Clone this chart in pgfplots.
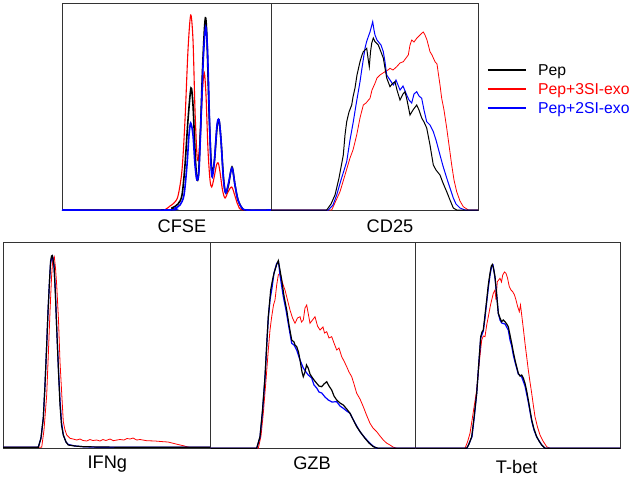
\documentclass[border=0pt]{standalone}
\usepackage{pgfplots}
\pgfplotsset{compat=1.18}
\usepackage{fontspec}
\setmainfont{Liberation Sans}

% every panel uses image pixels as data units
\pgfplotsset{
  panel/.style={
    x=1bp, y=1bp, y dir=reverse,
    anchor=north west,
    xtick=\empty, ytick=\empty,
    axis line style={black!80, line width=0.8bp},
    clip=false,
  },
  pk/.style={black, line width=1.2bp},
  pr/.style={red, line width=0.8bp},
  pb/.style={blue, line width=1.2bp},
}
\tikzset{lab/.style={anchor=base, font=\fontsize{18.3}{22}\selectfont}}

\begin{document}
\begin{tikzpicture}
\path[use as bounding box] (0,0) rectangle (630bp,-478bp);

% CFSE
\begin{axis}[panel, at={(62bp,-3bp)}, xmin=62, xmax=271, ymin=3, ymax=210]
\addplot[pr, line width=1.1bp, smooth] coordinates {(62,210)(160,210)(166,209)(170,206)(174,203)(178,196)(182,170)(185,120)(188,50)(190.7,15)(193,40)(195,110)(197,155)(198.5,158)(200.5,130)(202.5,90)(204.3,73)(206,95)(208,150)(210,180)(211.7,187)(214,178)(216.5,165)(218.3,163)(220,172)(222.5,190)(225,198)(228,192)(231.7,187)(235,196)(238,205)(243,210)(271,210)};
\addplot[pk, line width=1.6bp, smooth] coordinates {(62,210)(165,210)(172,208)(178,204)(182,195)(185,165)(188,120)(191,88)(193,105)(195,150)(196.7,178)(198.5,175)(200.5,130)(202.5,70)(204.5,28)(205.7,18)(207,40)(209,110)(211,160)(212.3,173)(214.5,160)(217,128)(219,120)(221,140)(223.5,178)(225.7,193)(228.5,185)(232,167)(235,185)(238,200)(242,208)(246,210)(271,210)};
\addplot[pb, line width=1.6bp, smooth] coordinates {(62,210)(168,210)(175,208)(180,205)(184,195)(187,165)(189,135)(190.7,123)(193,135)(195,165)(197,180)(199,170)(201,120)(203.5,55)(205.7,27)(207.5,50)(209.5,120)(211,165)(212.3,177)(214.5,160)(217,125)(219,120)(221,140)(223.5,180)(225.7,193)(228.5,183)(232,168)(235,185)(238,200)(242,208)(247,210)(271,210)};
\node[lab] at (axis cs:182,232.7) {CFSE};
\end{axis}

% CD25
\begin{axis}[panel, at={(271bp,-3bp)}, xmin=271, xmax=478, ymin=3, ymax=210,
  legend style={at={(axis cs:484,92)}, anchor=west, draw=none, fill=none,
    font=\fontsize{15.8}{19}\selectfont, row sep=0pt,
    nodes={inner sep=0pt, text height=12bp, text depth=7bp}},
  legend cell align=left,
  legend image code/.code={\draw[#1, line width=1.4bp] (0bp,0.3em) -- (38bp,0.3em);
    \path (50bp,0.3em);},
  ]
\addplot[pr, forget plot] coordinates {(271,210)(331.7,210)(340,191.7)(345,175)(350,158)(353,150)(356.7,135)(360,118)(363.3,105)(366,103)(370,98.3)(372,90)(375,83.3)(377,78)(380,75)(383,73)(385,71.7)(388,70)(390,68.3)(393,70)(396.7,66.7)(400,63)(403.3,61.7)(406,58)(408.3,55)(410,45)(411.7,40)(414,42)(416.7,38.3)(419,36)(421.7,33.3)(423.3,32)(425,35)(427,40)(430,51.7)(432,55)(435,61.7)(437,64)(438.3,73.3)(440,85)(441.7,98.3)(444,110)(446.7,128)(449,145)(451.7,165)(454,180)(456.7,191.7)(460,201)(463.3,206.7)(468.3,210)(478,210)};
\addplot[pb, line width=1bp, forget plot] coordinates {(271,210)(328.3,210)(333,205)(336.7,195)(341,180)(346.7,161.7)(350,140)(353.3,121.7)(356,105)(360,81.7)(362,68)(365,48.3)(366.5,42)(368.3,36.7)(370,32)(372.7,21.7)(374,30)(375,35)(377,40)(378.3,41.7)(381,45)(383.3,51.7)(385,62)(386.7,75)(390,80)(393.3,85)(396,80)(400,90)(403,86)(406.7,95)(409,100)(411.7,103)(414,94)(416.7,91.7)(419,96)(421.7,98.3)(424,110)(426.7,121.7)(430,125)(433.3,131.7)(436,140)(440,155)(443,166)(446.7,178)(450,188)(453.3,198)(456,204)(460,208)(465,210)(478,210)};
\addplot[pk, line width=1bp, forget plot] coordinates {(271,210)(326.7,210)(331,204)(335,195)(339,178)(343.3,155)(345,135)(346.7,121.7)(349,112)(351.7,105)(353,97)(355,88)(357,75)(360,61.7)(362,55)(363.3,51.7)(365,50)(366.7,48.3)(368,58)(369.3,66.7)(370.5,52)(371.7,43.3)(373.3,38)(375,41.7)(378.3,45)(381,52)(383.3,58)(385,68)(386.7,78)(390,86.7)(392,84)(395,81.7)(397,90)(400,100)(403,94)(405,91.7)(407,100)(410,115)(413,110)(416.7,105)(419,110)(421.7,118)(424,122)(426.7,128)(430,145)(433.3,165)(436,170)(440,175)(443,183)(446.7,191.7)(450,200)(453.3,208)(456.7,210)(478,210)};
\addlegendimage{black}
\addlegendentry{Pep}
\addlegendimage{red}
\addlegendentry{\textcolor{red}{Pep+3SI-exo}}
\addlegendimage{blue}
\addlegendentry{\textcolor{blue}{Pep+2SI-exo}}
\node[lab] at (axis cs:390,232.7) {CD25};
\end{axis}

% IFNg
\begin{axis}[panel, at={(3bp,-242bp)}, xmin=3, xmax=210.5, ymin=242, ymax=448]
\addplot[pr] coordinates {(3,447.3)(41.7,447.3)(44,430)(46.7,395)(48.5,350)(50,311.7)(51.5,278)(52.7,260)(54.3,256.7)(55.5,268)(56.7,285)(58.5,320)(60,361.7)(61.8,395)(63.3,421.7)(65,430)(66.7,435)(70,438.3)(73,439)(76.7,440)(80,439)(83,440.5)(86.7,441)(90,439.5)(93,440.5)(96.7,440)(100,441)(103,439.5)(106,440.5)(110,439)(113.3,440.7)(117,440)(120,439.5)(124,440)(127,438.5)(130,439)(133,438)(136.7,440)(140,439.5)(146.7,440.7)(155,441)(163.3,441.7)(168,442)(173.3,443.3)(178,444.5)(183.3,445.7)(187,446.8)(190,447.3)(210.5,447.3)};
\addplot[pb] coordinates {(3,447.3)(38.3,447.3)(41,438)(43.3,418)(45,385)(46.7,345)(48,312)(49.3,285)(50.5,264)(51.7,257)(52.5,256)(54,266)(55.3,290)(56.7,328)(58.5,370)(60,400)(61.5,422)(63.3,435)(66,442)(68.3,444.5)(75,446)(83.3,446.7)(100,447.3)(210.5,447.3)};
\addplot[pk] coordinates {(3,447.3)(38.3,447.3)(41,438)(43.3,418)(45,385)(46.7,345)(48,312)(49.3,285)(50.5,262)(51.5,256)(52.3,255.5)(54,265)(55.3,292)(56.7,328)(58.5,372)(60,405)(61.5,425)(63.3,435)(66,442)(68.3,445)(75,446)(83.3,446.7)(100,447)(130,447.3)(210.5,447.3)};
\node[lab] at (axis cs:107.3,468.3) {IFNg};
\end{axis}

% GZB
\begin{axis}[panel, at={(210.5bp,-242bp)}, xmin=210.5, xmax=415.5, ymin=242, ymax=448]
\addplot[pr] coordinates {(210.5,448.3)(258.3,448.3)(261,436)(263.3,413.3)(266,380)(268.3,350)(270,330)(271.7,316.7)(273.5,305)(275,300)(276.7,285)(278.3,275)(280,273)(281.7,280)(283.5,286)(285,290)(287.5,300)(290,310)(292.5,318)(295,323.3)(297.5,318)(300,316.7)(301.5,322)(303.3,320)(305,308)(306.7,305)(308.5,315)(310,323.3)(312.5,320)(315,316.7)(317.5,326)(320,330)(323,327)(324.5,333)(326.7,331.7)(329,338)(331.7,336.7)(334,343)(336.7,350)(339,348)(341.7,356.7)(344,361)(346.7,366.7)(349,372)(351.7,376.7)(354,384)(356.7,393.3)(360,399)(363.3,406.7)(366.5,415)(370,423.3)(373,428)(376.7,431.7)(380,436)(383.3,440)(386.5,443)(390,445)(393,447)(396.7,448.3)(415.5,448.3)};
\addplot[pb] coordinates {(210.5,448.3)(256.7,448.3)(260,437)(262.5,412)(265,378)(267,340)(268.3,318)(270,300)(272,288)(274,273)(276.7,263.3)(278.5,262)(280,275)(283.3,296.7)(286,310)(288.5,325)(291.7,343.3)(294,345)(296.7,350)(300,360)(303.3,368)(306,372)(308.3,375)(311.7,378)(314,385)(316.7,388)(319,392)(321.7,393)(325,397)(328.3,400)(332,402)(336.7,401.7)(340,406)(343.3,408.3)(346.7,411)(350,413.3)(355,423)(360,431.7)(365,438)(370,443.3)(373,446)(376.7,448.3)(415.5,448.3)};
\addplot[pk] coordinates {(210.5,448.3)(256.7,448.3)(260,436.7)(262.5,410)(265,376.7)(266.7,345)(268.3,316.7)(270.7,290)(272.5,280)(274,273.3)(276.5,265)(278.3,260.7)(280,270)(281.7,280)(284,296)(286.7,310)(289,325)(291.7,340)(294,342)(295,345)(296.7,346.7)(298.5,352)(300,360)(302,372)(303.3,376.7)(305,372)(306.5,365)(308.3,368.3)(310,374)(311.7,376.7)(314,380)(316.7,383.3)(319,386)(321.7,386.7)(324,384)(326.7,381.7)(329,386)(331.7,390)(334,396)(336.7,400)(340,403)(343.3,405)(346.7,409)(350,413.3)(353.3,420)(356.7,426.7)(361,433)(365,438.3)(369,443)(373.3,446.7)(378.3,448.3)(415.5,448.3)};
\node[lab] at (axis cs:312,469.3) {GZB};
\end{axis}

% T-bet
\begin{axis}[panel, at={(415.5bp,-242bp)}, xmin=415.5, xmax=620, ymin=242, ymax=448]
\addplot[pr] coordinates {(415.5,448.3)(465,448.3)(467.5,442)(470,433.3)(473.3,412)(476.7,390)(479,365)(481.7,340)(483.3,336)(485,336.7)(486.7,325)(488.3,316.7)(490.5,305)(493.3,293.3)(495,290)(496,300)(497.3,281.7)(500,278.3)(501.5,282)(502.7,275)(504.5,272)(506,273.3)(507.5,278)(509.3,286.7)(511,290)(512.7,291.7)(514.5,295)(516,300)(517.5,306)(519.3,311.7)(520.5,305)(521.7,315)(523.5,330)(525,343.3)(526.7,357)(528.3,370)(530,382)(531.7,393.3)(533.3,405)(535,416.7)(537.5,427)(540,435)(543,441)(546.7,446.7)(550,448.3)(620,448.3)};
\addplot[pb] coordinates {(415.5,448.3)(467,448.3)(472,436.7)(474.5,415)(476.7,393.3)(478.7,365)(480.7,338)(483.3,331)(485,318)(486.7,302)(488.3,288)(490,275)(491.7,266)(493,265)(495,278)(496.7,295)(498.3,313.3)(500,320)(501.7,323)(505,324)(508.3,330)(510,340)(511.7,346)(513.3,355)(515,362)(518.3,374)(521.7,377)(525,386)(528.3,402)(531.7,421)(534,430)(536.7,437)(541.7,445)(545,448.3)(620,448.3)};
\addplot[pk] coordinates {(415.5,448.3)(466.7,448.3)(469,444)(471.7,436.7)(474,418)(476.7,393.3)(478.7,365)(480.7,336.7)(482,332)(483.3,330)(485,315)(486.7,300)(488.3,285)(490,273.3)(491.3,266)(492.3,264.5)(493.5,268)(495,276.7)(496.7,295)(498.3,313.3)(500,318)(501.7,321.7)(503.3,320)(505,321.7)(506.7,324)(508.3,326.7)(510,335)(511.7,343.3)(513.3,352)(515,360)(516.7,367)(518.3,373.3)(520,376)(521.7,375)(523.3,378)(525,383.3)(526.7,391)(528.3,400)(530,410)(531.7,420)(534,429)(536.7,436.7)(539,441)(541.7,445)(545,448.3)(620,448.3)};
\node[lab] at (axis cs:516.7,473.3) {T-bet};
\end{axis}
\end{tikzpicture}
\end{document}
